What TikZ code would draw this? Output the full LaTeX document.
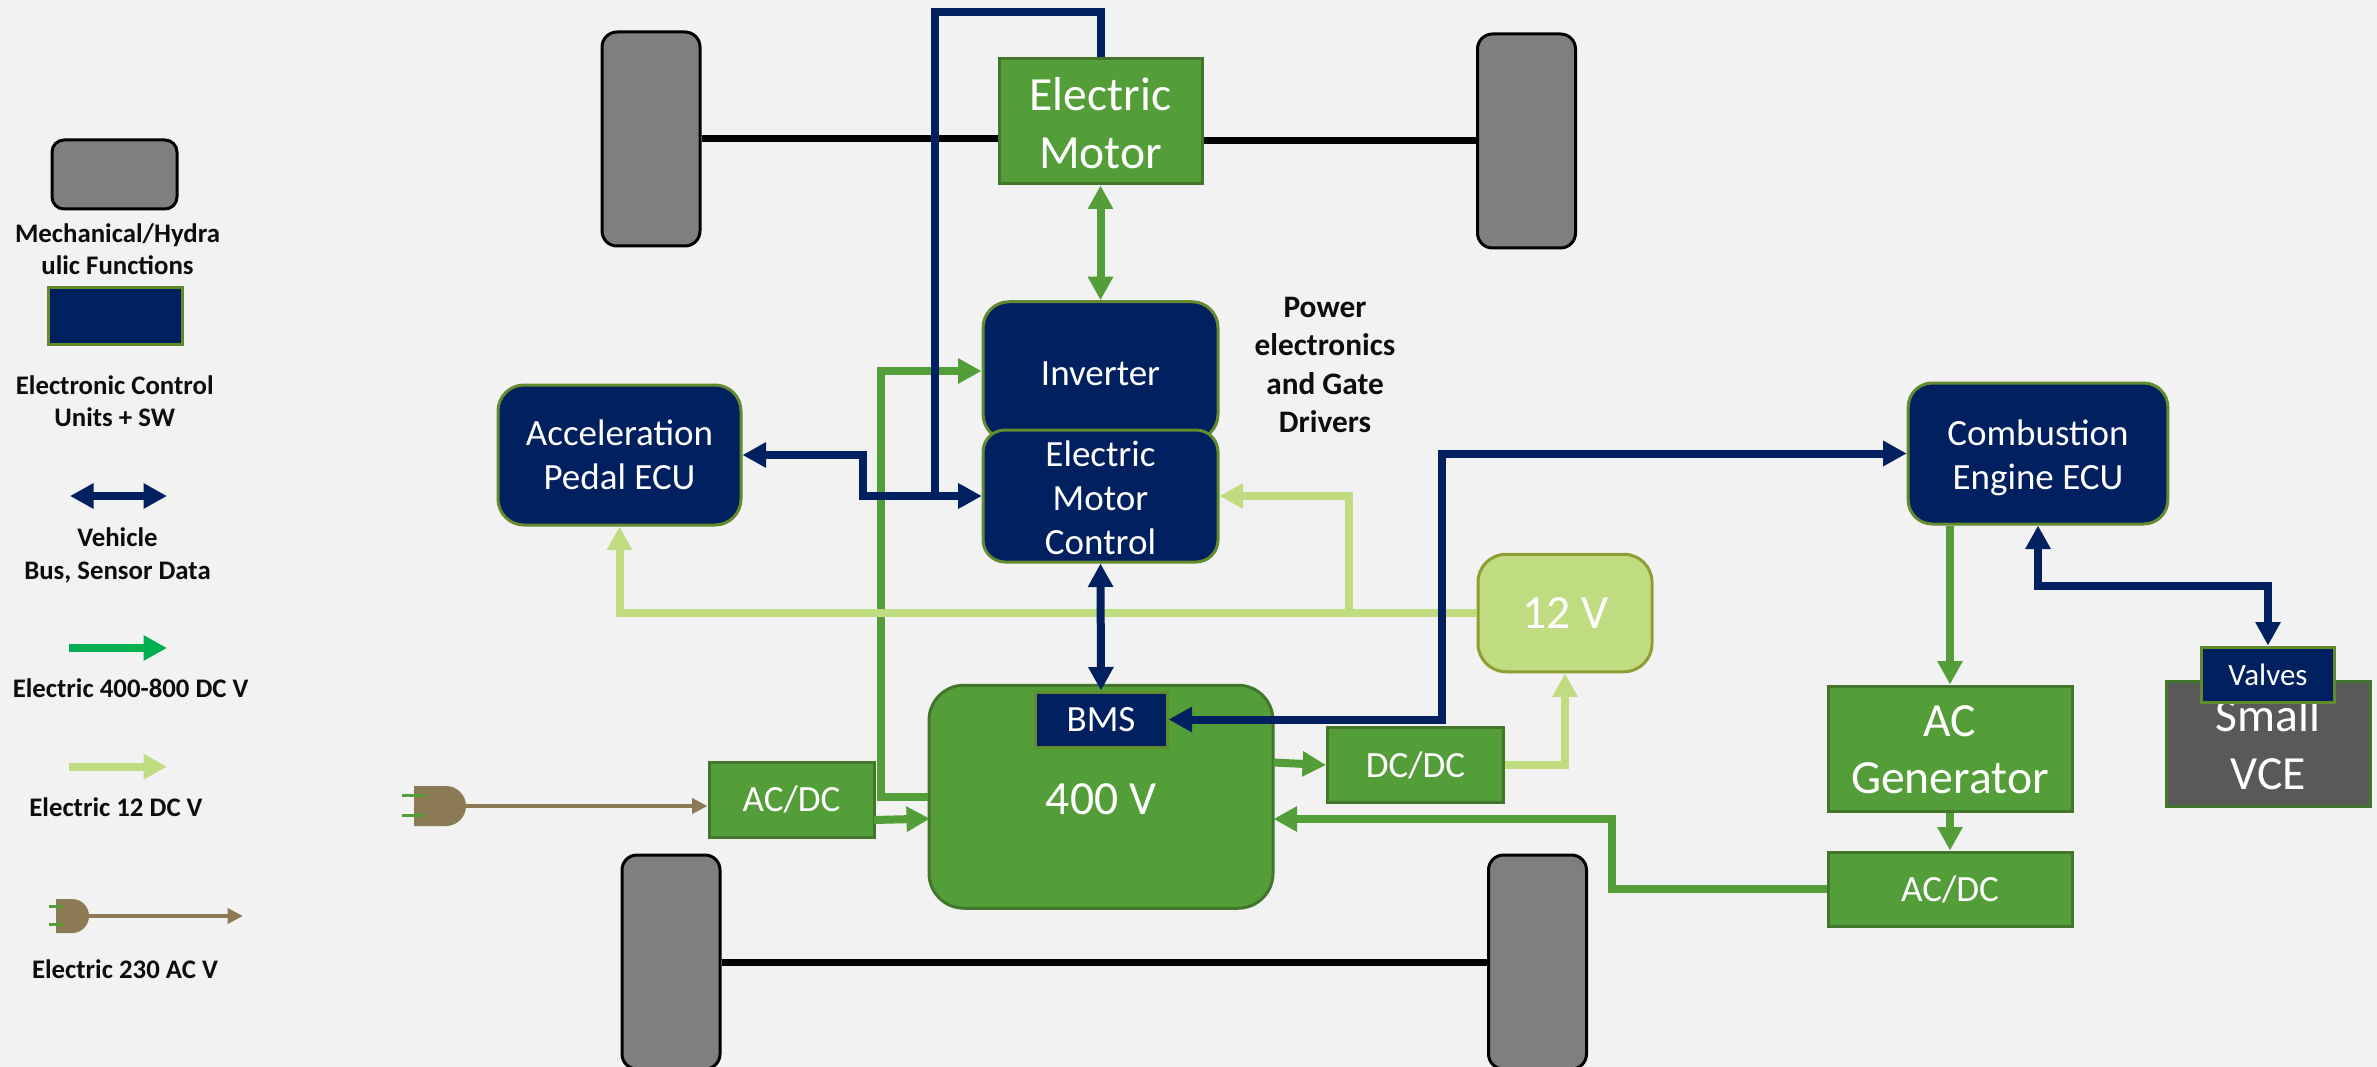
\documentclass[tikz,border=0pt]{standalone}
\usepackage{fontspec}
\setmainfont{Carlito}
\usetikzlibrary{arrows.meta}
\definecolor{pagebg}{HTML}{F2F2F2}
\definecolor{navy}{HTML}{002060}
\definecolor{navyedge}{HTML}{638A2C}
\definecolor{grn}{HTML}{549E39}
\definecolor{grnedge}{HTML}{41762B}
\definecolor{lgrn}{HTML}{BFDC80}
\definecolor{lgrnedge}{HTML}{8F9E33}
\definecolor{legendgrn}{HTML}{00B050}
\definecolor{brownish}{HTML}{8B7A53}
\definecolor{wheelgrey}{HTML}{7F7F7F}
\definecolor{vcegrey}{HTML}{595959}
% shift a block of text down without changing its box
\newcommand{\dnl}[2]{\raisebox{-#1}[\height][\depth]{\begin{tabular}{@{}c@{}}#2\end{tabular}}}
\tikzset{
  x=1pt,y=-1pt,
  bigtip/.tip={Triangle[length=23.5pt,width=24pt]},
  smalltip/.tip={Triangle[length=15.5pt,width=15pt]},
  base/.style={rectangle,inner sep=0pt,outer sep=1.5pt,align=center,text=white},
  wheel/.style={base,draw=black,line width=3pt,fill=wheelgrey,rounded corners=15pt,minimum width=98pt,minimum height=214pt},
  navyround/.style={base,draw=navyedge,line width=3pt,fill=navy,font=\fontsize{37}{44}\selectfont},
  navyrect/.style={navyround},
  grnrect/.style={base,draw=grnedge,line width=3pt,fill=grn,font=\fontsize{37}{44}\selectfont},
  bigtext/.style={font=\fontsize{47.6}{57.5}\selectfont},
  lgd/.style={inner sep=0pt,outer sep=0pt,align=center,text=black!95,font=\bfseries\fontsize{26.8}{32.3}\selectfont},
  axle/.style={draw=black,line width=7pt},
  g line/.style={draw=grn,line width=8pt,line join=miter},
  l line/.style={draw=lgrn,line width=8pt,line join=miter},
  n line/.style={draw=navy,line width=8pt,line join=miter},
  b line/.style={draw=brownish,line width=4pt},
  plugbody/.style={fill=brownish},
  prong/.style={draw=grn,line width=3pt},
}
\begin{document}
\begin{tikzpicture}
\useasboundingbox (0,0) rectangle (2377,1067);
\clip (0,0) rectangle (2377,1067);
\fill[pagebg] (0,0) rectangle (2377,1067);

% wheels
\node[wheel] (wTL) at (651,139) {};
\node[wheel] (wTR) at (1526.5,141) {};
\node[wheel] (wBL) at (671,962) {};
\node[wheel] (wBR) at (1537.5,962) {};

% main blocks
\node[grnrect,bigtext,minimum width=203pt,minimum height=125pt] (motor) at (1100.5,121.5) {\dnl{6.5pt}{Electric\\Motor}};
\node[navyround,rounded corners=26pt,minimum width=235pt,minimum height=138.5pt] (inv) at (1100.5,371) {\dnl{6pt}{Inverter}};
\node[navyround,rounded corners=22pt,minimum width=235pt,minimum height=128.5pt] (emc) at (1100.5,496) {\dnl{5.5pt}{Electric\\Motor\\Control}};
\node[navyround,rounded corners=26pt,minimum width=243pt,minimum height=140pt] (accel) at (619.5,455) {Acceleration\\Pedal ECU};
\node[grnrect,bigtext,rounded corners=35pt,minimum width=344pt,minimum height=223pt] (bat) at (1101,796.75) {\dnl{6pt}{400 V}};
\node[navyrect,minimum width=132pt,minimum height=55pt] (bms) at (1101,719.5) {BMS};
\node[grnrect,minimum width=165pt,minimum height=75pt] (acdcA) at (791.5,799.5) {AC/DC};
\node[grnrect,minimum width=176pt,minimum height=75pt] (dcdc) at (1415.5,765) {DC/DC};
\node[base,draw=lgrnedge,line width=3pt,fill=lgrn,bigtext,rounded corners=28pt,minimum width=174pt,minimum height=117.5pt] (vtw) at (1565,613) {\dnl{4pt}{12 V}};
\node[navyround,rounded corners=24pt,minimum width=259.6pt,minimum height=141pt] (ecu) at (2038,453.5) {\dnl{5.5pt}{Combustion\\Engine ECU}};
\node[grnrect,bigtext,minimum width=244pt,minimum height=125pt] (acgen) at (1950,748.5) {\dnl{5pt}{AC\\Generator}};
\node[grnrect,minimum width=244pt,minimum height=74pt] (acdcB) at (1950,889) {AC/DC};
\node[base,draw=grnedge,line width=3pt,fill=vcegrey,bigtext,minimum width=204pt,minimum height=125pt] (vce) at (2268,744) {Small\\VCE};
\node[navyrect,font=\fontsize{31}{38}\selectfont,minimum width=132.3pt,minimum height=55pt] (valves) at (2268,674.5) {Valves};

% free text
\node[lgd,font=\bfseries\fontsize{31.3}{38.3}\selectfont] (pe) at (1325,365) {Power\\electronics\\and Gate\\Drivers};

% axles
\draw[axle] (wTL.east) -- (wTL.east -| motor.west);
\draw[axle] (wTR.west -| motor.east) -- (wTR.west);
\draw[axle] (wBL.east) -- (wBR.west);

% junctions
\coordinate (batDc) at (1273.5,762.5);
\coordinate (acdcAr) at (874,820);
\coordinate (batL) at (930,818.6);
\coordinate (batR) at (1273.5,819);
\coordinate (jGreenUp) at (880.6,371);
\coordinate (jAcdcB) at (1612,889);
\coordinate (jAcdcBt) at (1612,819);
\coordinate (jLight) at (1348.5,613);
\coordinate (jPedal) at (862.5,455);
\coordinate (jLoop) at (935,12);
\coordinate (jBms) at (1442,453.5);
\coordinate (jEcu) at (2038,586);

% green connectors
\draw[g line,-{bigtip}] (bat.west) -| (jGreenUp) -- (inv.west);
\draw[g line,-{bigtip}] (acdcAr) -- (batL);
\draw[g line,-{bigtip}] (batDc) -- (dcdc.west);
\draw[g line,-{bigtip}] (acdcB.west) -- (jAcdcB) -- (jAcdcBt) -- (batR);
\draw[g line,{bigtip}-{bigtip}] (motor.south) -- (inv.north);
\draw[g line,-{bigtip}] (acgen.north |- ecu.south) -- (acgen.north);
\draw[g line,-{bigtip}] (acgen.south) -- (acdcB.north);

% 12 V connectors
\draw[l line,-{bigtip}] (vtw.west) -| (accel.south);
\draw[l line,-{bigtip}] (jLight) |- (emc.east);
\draw[l line,-{bigtip}] (dcdc.east) -| (vtw.south);

% navy connectors
\draw[n line,{bigtip}-{bigtip}] (accel.east) -- (jPedal) |- (emc.west);
\draw[n line,-{bigtip}] (motor.north) |- (jLoop) |- (emc.west);
\draw[n line,{bigtip}-{bigtip}] (emc.south) -- (bms.north);
\draw[n line,{bigtip}-{bigtip}] (bms.east) -| (jBms) -- (ecu.west);
\draw[n line,{bigtip}-{bigtip}] (ecu.south) -- (jEcu) -| (valves.north);

% charging plug
\fill[plugbody] (414,786) -- (446,786) .. controls (457,786) and (466,795) .. (466,806) .. controls (466,817) and (457,826) .. (446,826) -- (414,826) -- cycle;
\coordinate (plugA) at (466,806);
\draw[prong] (402,795) -- (425,795);
\draw[prong] (402,815) -- (425,815);
\draw[b line,-{smalltip}] (plugA) -- (plugA -| acdcA.west);

% legend
\node[wheel,minimum width=125pt,minimum height=69pt,rounded corners=12pt] (lgGrey) at (114.5,174.5) {};
\node[lgd] (lgGreyT) at (117.5,249) {Mechanical/Hydra\\ulic Functions};
\node[navyrect,minimum width=134pt,minimum height=56pt] (lgNavy) at (115,316) {};
\node[lgd] (lgNavyT) at (114.7,401) {Electronic Control\\Units + SW};
\coordinate (lgA1) at (70,496); \coordinate (lgA2) at (167,496);
\draw[n line,{bigtip}-{bigtip}] (lgA1) -- (lgA2);
\node[lgd] (lgBus) at (117.5,555.5) {Vehicle\\Bus, Sensor Data};
\coordinate (lgB1) at (69,648); \coordinate (lgB2) at (167,648);
\draw[draw=legendgrn,line width=8pt,-{bigtip}] (lgB1) -- (lgB2);
\node[lgd] (lgHv) at (130.7,688) {Electric 400-800 DC V};
\coordinate (lgC1) at (69,766.7); \coordinate (lgC2) at (167,766.7);
\draw[l line,-{bigtip}] (lgC1) -- (lgC2);
\node[lgd] (lgLv) at (116,807) {Electric 12 DC V};
\fill[plugbody] (56,899) -- (72,899) .. controls (81.5,899) and (89,906.5) .. (89,916) .. controls (89,925.5) and (81.5,933) .. (72,933) -- (56,933) -- cycle;
\coordinate (lgD1) at (89,916); \coordinate (lgD2) at (243,916);
\draw[prong] (49,906.7) -- (63,906.7);
\draw[prong] (49,924) -- (63,924);
\draw[b line,-{smalltip}] (lgD1) -- (lgD2);
\node[lgd] (lgAc) at (125,968.7) {Electric 230 AC V};
\end{tikzpicture}
\end{document}
